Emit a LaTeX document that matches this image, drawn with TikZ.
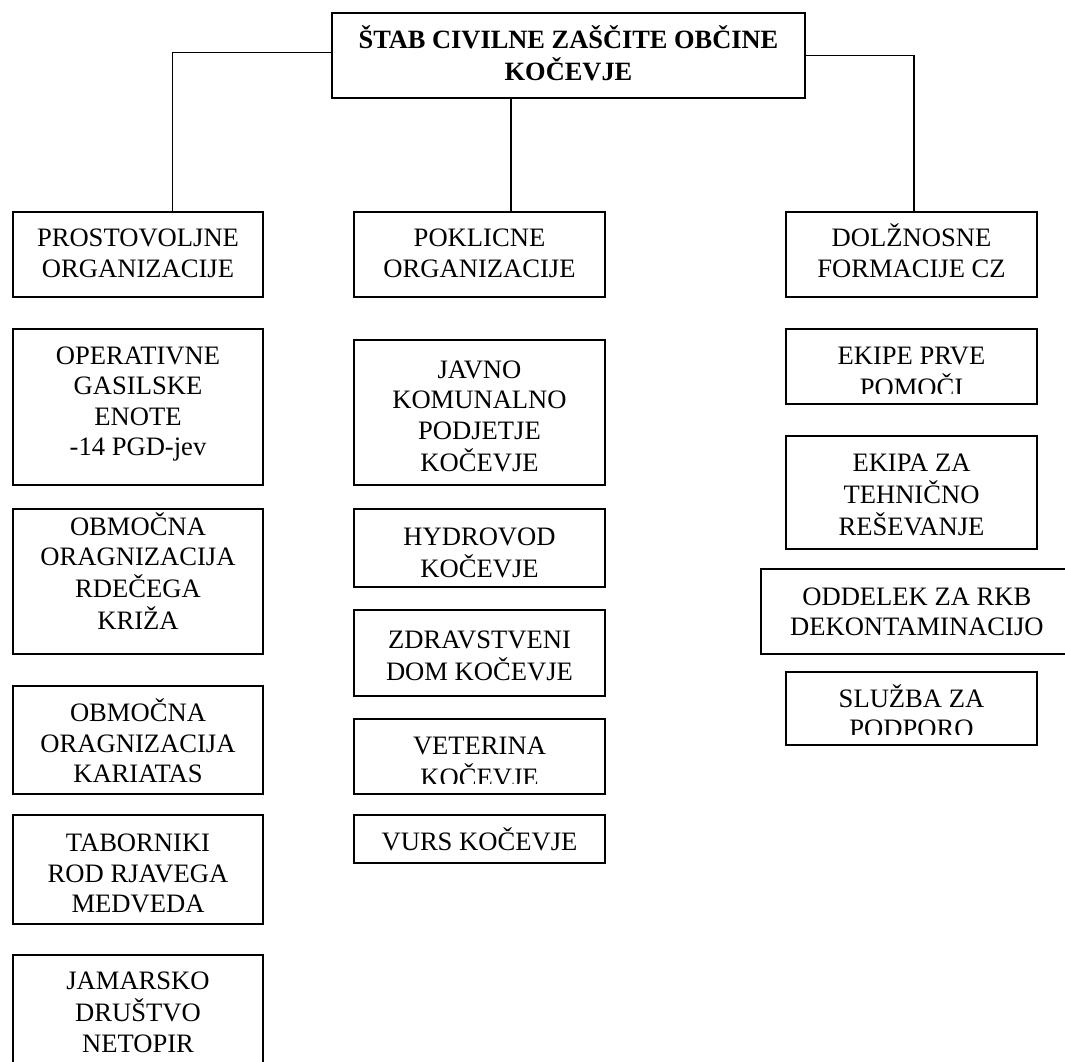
\documentclass[tikz,border=0pt]{standalone}
\usepackage{fontspec}
\setmainfont{Liberation Serif}
\usetikzlibrary{fit}

\tikzset{
  box/.style={draw, line width=0.85pt, inner sep=0pt},
  conn/.style={line width=0.7pt},
  lbl/.style={anchor=base, inner sep=0pt, font=\fontsize{13.3}{15.3}\selectfont},
  orgbox/.style 2 args={box, path picture={
      \node[lbl] at ([yshift=-#1]path picture bounding box.north)
        {\begin{tabular}[t]{@{}c@{}}#2\end{tabular}};}},
  orgcut/.style 2 args={box, path picture={
      \clip ([yshift=5.5pt]path picture bounding box.south west) rectangle (path picture bounding box.north east);
      \node[lbl] at ([yshift=-#1]path picture bounding box.north)
        {\begin{tabular}[t]{@{}c@{}}#2\end{tabular}};}},
  headbox/.style 2 args={box, line width=1.15pt, path picture={
      \node[lbl, font=\fontsize{13.2}{15.85}\selectfont\bfseries] at ([yshift=-#1]path picture bounding box.north)
        {\begin{tabular}[t]{@{}c@{}}#2\end{tabular}};}},
}

\begin{document}
\begin{tikzpicture}[x=0.5pt, y=-0.5pt]
\useasboundingbox (0,0) rectangle (1065,1061);
% Staff
\node[headbox={17.8pt}{ŠTAB CIVILNE ZAŠČITE OBČINE\\KOČEVJE}, fit={(332,12.7) (805,97.7)}] (stab) {};
% Groups
\node[orgbox={17.35pt}{PROSTOVOLJNE\\ORGANIZACIJE}, fit={(13,212) (263,297)}] (prost) {};
\node[orgbox={17.35pt}{POKLICNE\\ORGANIZACIJE}, fit={(354,212) (605,297)}] (pokl) {};
\node[orgbox={17.35pt}{DOLŽNOSNE\\FORMACIJE CZ}, fit={(786,212) (1037,297)}] (dolz) {};
% Links
\draw[conn] ([yshift=1.5pt]stab.west) -| ([xshift=17.15pt]prost.north);
\draw[conn] ([xshift=15.75pt]pokl.north) -- ([xshift=15.75pt]pokl.north |- stab.south);
\draw[conn] (stab.east) -| ([xshift=1.25pt]dolz.north);
% Volunteer column
\node[orgbox={17.35pt}{OPERATIVNE\\GASILSKE\\ENOTE\\-14 PGD-jev}, fit={(13,329.3) (263,485)}] (gasilci) {};
\node[orgbox={13pt}{OBMOČNA\\ORAGNIZACIJA\\RDEČEGA\\KRIŽA}, fit={(13,509) (263,654)}] (rdkriz) {};
\node[orgbox={18pt}{OBMOČNA\\ORAGNIZACIJA\\KARIATAS}, fit={(13,685.7) (263,794)}] (karitas) {};
\node[orgbox={18.3pt}{TABORNIKI\\ROD RJAVEGA\\MEDVEDA}, fit={(13,815) (263,924)}] (tabor) {};
\node[orgbox={17.6pt}{JAMARSKO\\DRUŠTVO\\NETOPIR}, fit={(13,954.7) (263,1085)}] (jamar) {};
% Professional column
\node[orgbox={19pt}{JAVNO\\KOMUNALNO\\PODJETJE\\KOČEVJE}, fit={(354,340) (605,485)}] (komunala) {};
\node[orgbox={18pt}{HYDROVOD\\KOČEVJE}, fit={(354,509) (605,587)}] (hydro) {};
\node[orgbox={19pt}{ZDRAVSTVENI\\DOM KOČEVJE}, fit={(354,610) (605,695.7)}] (zdrav) {};
\node[orgcut={17.5pt}{VETERINA\\KOČEVJE}, fit={(354,719) (605,794)}] (veter) {};
\node[orgbox={17.8pt}{VURS KOČEVJE}, fit={(354,815) (605,862.7)}] (vurs) {};
% Duty column
\node[orgcut={17.8pt}{EKIPE PRVE\\POMOČI}, fit={(786,329.3) (1037,404)}] (prvapom) {};
\node[orgbox={18pt}{EKIPA ZA\\TEHNIČNO\\REŠEVANJE}, fit={(786,435.7) (1037,549)}] (tehnika) {};
\node[orgbox={18.2pt}{ODDELEK ZA RKB\\DEKONTAMINACIJO}, fit={(760.7,568.7) (1073,654)}] (rkb) {};
\node[orgcut={17.5pt}{SLUŽBA ZA\\PODPORO}, fit={(786,672.3) (1037,745)}] (podpora) {};
\end{tikzpicture}
\end{document}
